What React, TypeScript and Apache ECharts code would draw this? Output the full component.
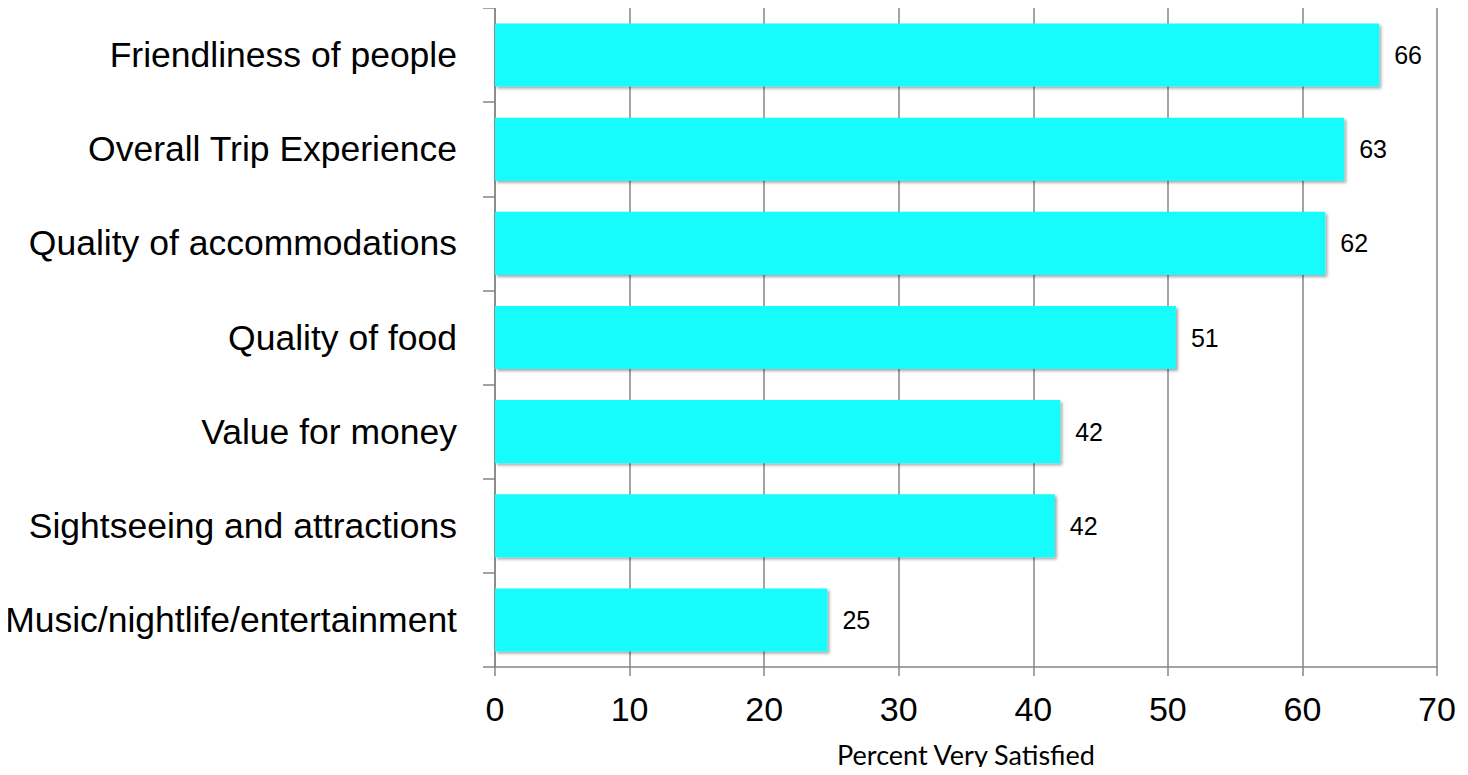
import React, { useEffect, useRef } from "react";
import * as echarts from "echarts";

const categories = [
  "Friendliness of people",
  "Overall Trip Experience",
  "Quality of accommodations",
  "Quality of food",
  "Value for money",
  "Sightseeing and attractions",
  "Music/nightlife/entertainment",
];
const values = [65.7, 63.1, 61.7, 50.6, 42.0, 41.6, 24.7];
const xTicks = [0, 10, 20, 30, 40, 50, 60, 70];
const axisTitle = "Percent Very Satisfied";

export default function App() {
  const ref = useRef<HTMLDivElement>(null);
  useEffect(() => {
    if (!ref.current) return;
    const chart = echarts.init(ref.current, undefined, { renderer: "svg" });
    chart.setOption({
      animation: false,
      backgroundColor: "#ffffff",
      grid: { left: 495, right: 31, top: 8, bottom: 108, containLabel: false },
      xAxis: {
        type: "value",
        min: xTicks[0],
        max: xTicks[xTicks.length - 1],
        interval: 10,
        name: axisTitle,
        nameLocation: "middle",
        nameGap: 74,
        nameTextStyle: { fontFamily: "Lato", fontSize: 27, color: "#000" },
        axisLine: { show: true, lineStyle: { color: "#868686", width: 1.5 } },
        axisTick: { show: true, length: 9, lineStyle: { color: "#868686", width: 1.5 } },
        splitLine: { show: true, lineStyle: { color: "#868686", width: 1.5 } },
        axisLabel: {
          fontFamily: "Liberation Sans",
          fontSize: 34,
          color: "#000",
          margin: 25,
        },
      },
      yAxis: {
        type: "category",
        data: categories,
        inverse: true,
        axisLine: { show: true, lineStyle: { color: "#868686", width: 1.5 } },
        axisTick: { show: true, length: 12, lineStyle: { color: "#868686", width: 1.5 } },
        splitLine: { show: false },
        axisLabel: {
          fontFamily: "Liberation Sans",
          fontSize: 35.5,
          color: "#000",
          margin: 38,
        },
      },
      series: [
        {
          type: "bar",
          data: values,
          barCategoryGap: "33%",
          itemStyle: {
            color: "#14FBFB",
            shadowColor: "rgba(0,0,0,0.35)",
            shadowBlur: 3,
            shadowOffsetX: 2,
            shadowOffsetY: 2,
          },
          label: {
            show: true,
            position: "right",
            distance: 15,
            fontFamily: "Liberation Sans",
            fontSize: 25,
            color: "#000",
            formatter: (p: any) => String(Math.round(p.value)),
          },
        },
      ],
    });
    return () => chart.dispose();
  }, []);
  return <div ref={ref} style={{ width: 1468, height: 775, margin: -8 }} />;
}
